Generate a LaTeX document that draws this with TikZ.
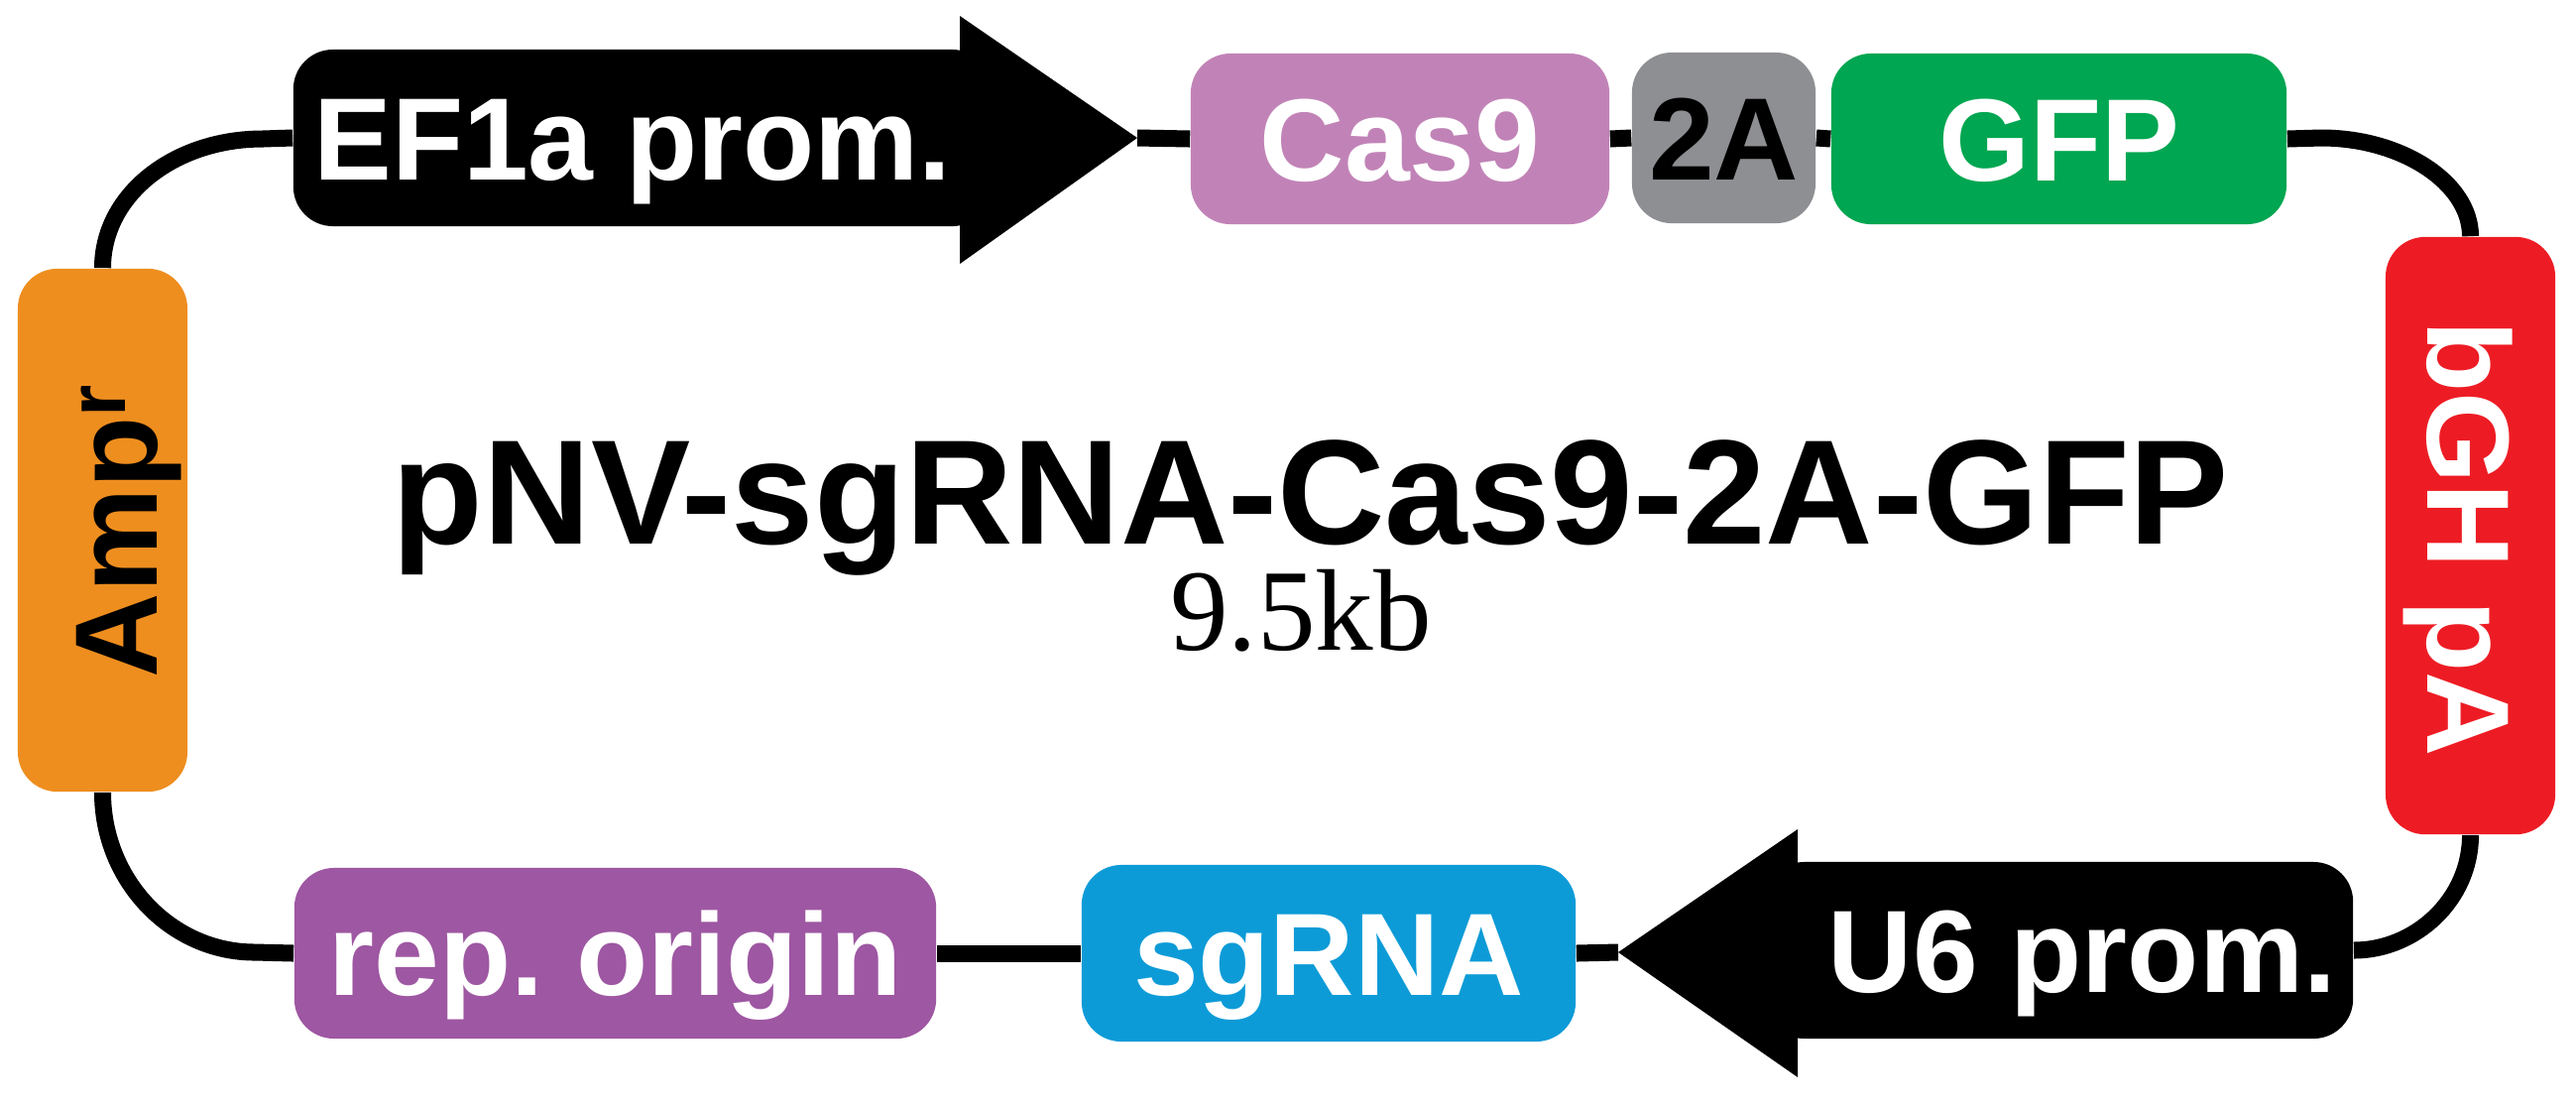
\documentclass[tikz,border=0pt]{standalone}
\usepackage{fontspec}
\setmainfont{Liberation Serif}
\setsansfont{Liberation Sans}
\usetikzlibrary{backgrounds}
\definecolor{casc}{HTML}{C183B7}
\definecolor{twoa}{HTML}{8E8F92}
\definecolor{gfpc}{HTML}{00A651}
\definecolor{bghc}{HTML}{ED1C24}
\definecolor{ampc}{HTML}{EE8E1F}
\definecolor{repc}{HTML}{9E57A2}
\definecolor{sgc}{HTML}{0D9BD7}
\tikzset{
  box/.style={rounded corners=0.4cm, inner sep=0pt, minimum height=1.72cm},
  lbl/.style={inner sep=0pt, text height=24pt, text depth=0pt,
    font=\sffamily\bfseries\fontsize{33.6}{40}\selectfont, text=white},
  bb/.style={line width=4.84pt, line cap=butt, black},
}
\begin{document}
\frenchspacing
\begin{tikzpicture}[x=0.01cm, y=-0.01cm]
\useasboundingbox (0,0) rectangle (2598,1114);
% promoter arrows
\node[box, fill=black, minimum width=7.04cm, minimum height=1.78cm] (efbody) at (648,139) {};
\fill[black] (968,16) -- (1147,139) -- (968,266) -- cycle;
\coordinate (eftip) at (1147,139);
\node[lbl] (ef) at (638,139) {EF1a prom.};
\node[box, fill=black, minimum width=5.93cm, minimum height=1.78cm] (u6body) at (2076.5,958) {};
\fill[black] (1813,836) -- (1632,960) -- (1813,1086) -- cycle;
\coordinate (u6tip) at (1632,960);
\node[lbl] (u6) at (2100,958) {U6 prom.};
% boxes
\node[box, lbl, fill=casc, minimum width=4.22cm] (cas) at (1412,140) {Cas9};
\node[box, lbl, fill=twoa, text=black, minimum width=1.85cm] (ta) at (1738.5,139) {2A};
\node[box, lbl, fill=gfpc, minimum width=4.59cm] (gfp) at (2076.5,140) {GFP};
\node[box, fill=ampc, minimum width=1.71cm, minimum height=5.27cm] (amp) at (103.5,534.5) {};
\node[lbl, text=black, rotate=90] (ampl) at (116,535) {Amp\textsuperscript{r}};
\node[box, fill=bghc, minimum width=1.71cm, minimum height=6.02cm] (bgh) at (2491.5,540) {};
\node[lbl, rotate=-90] (bghl) at (2491,543) {bGH pA};
\node[box, lbl, fill=repc, minimum width=6.47cm] (rep) at (620.5,961) {rep. origin};
\node[box, lbl, fill=sgc, minimum width=4.98cm, minimum height=1.78cm] (sg) at (1340,961) {sgRNA};
% title
\node[inner sep=0pt, anchor=base, text depth=0pt, font=\sffamily\bfseries\fontsize{42.7}{50}\selectfont] (title) at (1322,548) {pNV-sgRNA-Cas9-2A-GFP};
\node[inner sep=0pt, anchor=base, font=\fontsize{33.3}{40}\selectfont] (size) at (1312,655) {9.5kb};
% backbone
\begin{pgfonlayer}{background}
\draw[bb] (eftip) -- (cas.west);
\draw[bb] (cas.east) -- (ta.west);
\draw[bb] (ta.east) -- (gfp.west);
\draw[bb] (gfp.east) -- (2341,139) .. controls (2422,139) and (2491.5,184) .. (bgh.north);
\draw[bb] (bgh.south) .. controls (2491.5,907) and (2436,958) .. (u6body.east);
\draw[bb] (u6tip) -- (sg.east);
\draw[bb] (sg.west) -- (rep.east);
\draw[bb] (rep.west) -- (257,960) .. controls (172,960) and (103.5,887) .. (amp.south);
\draw[bb] (amp.north) .. controls (103.5,196) and (176,140) .. (265,140) -- (efbody.west);
\end{pgfonlayer}
\end{tikzpicture}
\end{document}
